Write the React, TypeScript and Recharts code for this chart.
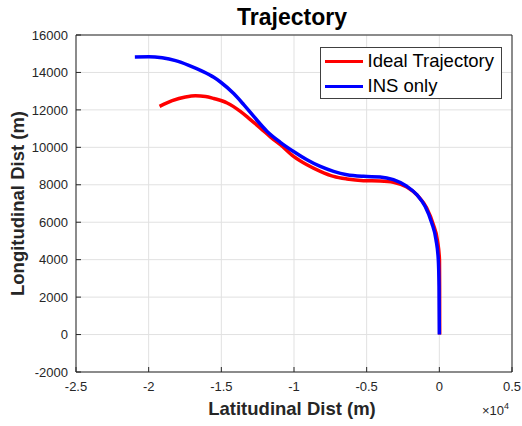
import { LineChart, Line, XAxis, YAxis, CartesianGrid, Label } from 'recharts';

// Ideal trajectory (metres)
const idealLat = [
  -19250, -18380, -17470, -16780, -16090, -15520, -14600, -13690, -13000, -12310, -11400, -10940,
  -10030, -9110, -8190, -7280, -6360, -5220, -4070, -3160, -2240, -1440, -870, -410, -140, 10, 20, 25,
];
const idealLon = [
  12190, 12490, 12690, 12760, 12720, 12610, 12370, 11920, 11480, 11030, 10410, 10140,
  9520, 9070, 8720, 8450, 8310, 8220, 8200, 8130, 7880, 7380, 6760, 5870, 5070, 4000, 2500, 0,
];

// INS-only estimate (metres)
const insLat = [
  -20950, -19990, -19070, -18150, -17240, -16320, -15520, -15060, -14150, -13460, -12770, -11850,
  -10940, -10030, -9110, -8190, -7280, -6360, -5220, -4070, -3160, -2240, -1550, -980, -520, -230,
  -70, -20, 0,
];
const insLon = [
  14830, 14840, 14780, 14630, 14380, 14070, 13740, 13490, 12870, 12280, 11650, 10850,
  10270, 9780, 9340, 8980, 8720, 8540, 8450, 8420, 8270, 7920, 7470, 6850, 5960, 5070,
  4000, 2570, 0,
];

const xTicks = [-25000, -20000, -15000, -10000, -5000, 0, 5000];
const yTicks = [-2000, 0, 2000, 4000, 6000, 8000, 10000, 12000, 14000, 16000];
const seriesNames = ['Ideal Trajectory', 'INS only'];
const seriesColors = ['#ff0000', '#0000ff'];

const idealData = idealLat.map((x, i) => ({ x, y: idealLon[i] }));
const insData = insLat.map((x, i) => ({ x, y: insLon[i] }));

const axisColor = '#262626';
const tickStyle = { fontSize: 13, fill: axisColor };

function ExponentLabel(props: any) {
  const vb = props.viewBox;
  const x = vb.x + vb.width - 30;
  const y = vb.y + 43;
  return (
    <text x={x} y={y} fill={axisColor} fontSize={13}>
      ×10
      <tspan dy={-6} fontSize={9}>
        4
      </tspan>
    </text>
  );
}

function TrajectoryLegend() {
  return (
    <div
      style={{
        position: 'absolute',
        left: 320,
        top: 47,
        width: 182,
        height: 52,
        border: '1px solid #404040',
        boxSizing: 'border-box',
        background: '#fff',
        fontFamily: 'Liberation Sans, Arial, sans-serif',
      }}
    >
      {seriesNames.map((name, i) => (
        <div key={name}>
          <div
            style={{
              position: 'absolute',
              left: 4,
              top: 11.5 + i * 25,
              width: 38,
              height: 3.5,
              background: seriesColors[i],
            }}
          />
          <div
            style={{
              position: 'absolute',
              left: 46.5,
              top: 3 + i * 25,
              fontSize: 18.5,
              lineHeight: '20px',
              color: '#000',
              whiteSpace: 'nowrap',
            }}
          >
            {name}
          </div>
        </div>
      ))}
    </div>
  );
}

export default function App() {
  return (
    <div style={{ position: 'absolute', left: 0, top: 0, width: 522, height: 426, background: '#fff' }}>
      <LineChart
        width={522}
        height={426}
        margin={{ top: 34, right: 9, bottom: 0, left: 0 }}
        style={{ fontFamily: 'Liberation Sans, Arial, sans-serif' }}
      >
        <CartesianGrid stroke="#e1e1e1" strokeWidth={1} />
        <XAxis
          type="number"
          dataKey="x"
          domain={[-25000, 5000]}
          ticks={xTicks}
          allowDataOverflow
          tickFormatter={(v: number) => String(v / 10000)}
          tick={tickStyle}
          tickSize={-5}
          tickMargin={15}
          height={54}
          axisLine={{ stroke: axisColor }}
          tickLine={{ stroke: axisColor }}
        >
          <Label
            value="Latitudinal Dist (m)"
            position="insideBottom"
            offset={11}
            dx={-2}
            style={{ fontSize: 18.5, fontWeight: 'bold', fill: axisColor }}
          />
          <Label content={ExponentLabel} />
        </XAxis>
        {/* box edges: top and right axes, ticks pointing inward, no labels */}
        <XAxis
          xAxisId="top"
          orientation="top"
          type="number"
          dataKey="x"
          domain={[-25000, 5000]}
          ticks={xTicks}
          allowDataOverflow
          height={1}
          tick={false}
          tickSize={-5}
          axisLine={{ stroke: axisColor }}
          tickLine={{ stroke: axisColor }}
        >
          <Label
            value="Trajectory"
            position="top"
            offset={9}
            dx={-2}
            style={{ fontSize: 23, fontWeight: 'bold', fill: '#000' }}
          />
        </XAxis>
        <YAxis
          type="number"
          domain={[-2000, 16000]}
          ticks={yTicks}
          allowDataOverflow
          tick={tickStyle}
          tickSize={-5}
          tickMargin={13}
          width={76}
          axisLine={{ stroke: axisColor }}
          tickLine={{ stroke: axisColor }}
        >
          <Label
            value="Longitudinal Dist (m)"
            angle={-90}
            position="center"
            dx={-20.5}
            style={{ fontSize: 18.5, fontWeight: 'bold', fill: axisColor }}
          />
        </YAxis>
        <YAxis
          yAxisId="right"
          orientation="right"
          type="number"
          domain={[-2000, 16000]}
          ticks={yTicks}
          allowDataOverflow
          width={1}
          tick={false}
          tickSize={-5}
          axisLine={{ stroke: axisColor }}
          tickLine={{ stroke: axisColor }}
        />
        <Line
          data={idealData}
          dataKey="y"
          name={seriesNames[0]}
          type="monotone"
          stroke={seriesColors[0]}
          strokeWidth={3.5}
          strokeLinejoin="round"
          dot={false}
          isAnimationActive={false}
        />
        <Line
          data={insData}
          dataKey="y"
          xAxisId="top"
          yAxisId="right"
          name={seriesNames[1]}
          type="monotone"
          stroke={seriesColors[1]}
          strokeWidth={3.5}
          strokeLinejoin="round"
          dot={false}
          isAnimationActive={false}
        />
      </LineChart>
      <TrajectoryLegend />
    </div>
  );
}
